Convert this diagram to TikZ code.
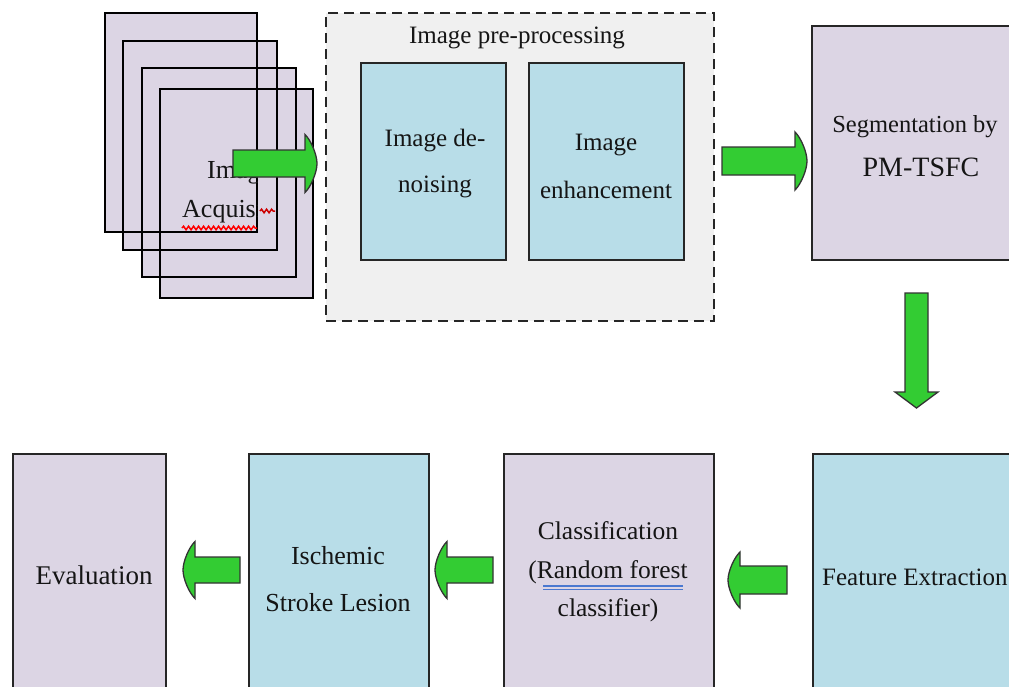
\documentclass[tikz,border=0pt]{standalone}
\usepackage{fontspec}
\setmainfont{Liberation Serif}
\usetikzlibrary{decorations.pathmorphing}
\definecolor{lav}{HTML}{DCD5E4}
\definecolor{lblue}{HTML}{B8DDE8}
\definecolor{pregray}{HTML}{F0F0F0}
\definecolor{agreen}{HTML}{33CC33}
\definecolor{txt}{HTML}{151515}
\definecolor{ulblue}{HTML}{4A78D0}
\newcommand\blkH[6]{% tail x, head base x, tip x, y centre, body half, head half
 \draw[garrow] (#1,{#4-#5}) -- (#2,{#4-#5}) -- (#2,{#4-#6})
   .. controls ({#2+0.5*(#3-#2)},{#4-0.8*#6}) and (#3,{#4-0.3*#6}) .. (#3,#4)
   .. controls (#3,{#4+0.3*#6}) and ({#2+0.5*(#3-#2)},{#4+0.8*#6}) .. (#2,{#4+#6})
   -- (#2,{#4+#5}) -- (#1,{#4+#5}) -- cycle;}
\newcommand\blkV[6]{% tail y, head base y, tip y, x centre, body half, head half
 \draw[garrow] ({#4-#5},#1) -- ({#4-#5},#2) -- ({#4-#6},#2)
   -- (#4,#3) -- ({#4+#6},#2) -- ({#4+#5},#2) -- ({#4+#5},#1) -- cycle;}
\begin{document}
\begin{tikzpicture}[x=1pt,y=-1pt,
 box/.style={draw=black!85, line width=1.6pt, inner sep=0pt, anchor=north west},
 lavbox/.style={box, fill=lav},
 bluebox/.style={box, fill=lblue},
 framefill/.style={fill=lav, inner sep=0pt, anchor=north west},
 frameline/.style={draw=black, line width=2pt},
 lbl/.style={text=txt, align=center, inner sep=0pt},
 garrow/.style={fill=agreen, draw=black!80, line width=1.3pt, line join=miter},
 squiggle/.style={line width=1.5pt, decorate, decoration={snake, amplitude=1.8pt, segment length=5pt}}
]
\useasboundingbox (0,0) rectangle (1009,686);
\fill[white] (0,0) rectangle (1009,686);
\clip (0,0) rectangle (1009,686);

% stacked acquisition frames
\node[framefill, minimum width=152pt, minimum height=219pt] (f1) at (105,13) {};
\node[framefill, minimum width=154pt, minimum height=209pt] (f2) at (123,41) {};
\node[framefill, minimum width=154pt, minimum height=209pt] (f3) at (142,68) {};
\node[framefill, minimum width=153pt, minimum height=209pt] (f4) at (160,89) {};
\foreach \f in {f1,f2,f3,f4}
  \draw[frameline] (\f.north west) rectangle (\f.south east);
\begin{scope}
\clip (0,0) rectangle (257,686);
\node[lbl, anchor=west, font=\fontsize{26}{30}\selectfont] (acq1) at (207,173) {Image};
\node[lbl, anchor=west, font=\fontsize{26}{30}\selectfont] (acq2) at (182,212) {Acquisition};
\draw[red, squiggle] (182,228) -- (257,228);
\end{scope}
\draw[red!80!black, squiggle] (260,211) -- (275,211);

% pre-processing group
\node[box, draw=black!85, line width=2pt, dash pattern=on 10pt off 6pt, fill=pregray,
      minimum width=388pt, minimum height=308pt] (pre) at (325,12) {};
\node[lbl, font=\fontsize{25}{30}\selectfont] (pretitle) at (517,38) {Image pre-processing};
\node[bluebox, minimum width=145pt, minimum height=197pt] (den) at (360,62) {};
\node[bluebox, minimum width=155pt, minimum height=197pt] (enh) at (528,62) {};
\node[lbl, font=\fontsize{25}{46}\selectfont] (dentxt) at (435,164) {Image de-\\noising};
\node[lbl, font=\fontsize{25}{48}\selectfont] (enhtxt) at (606,166) {Image\\enhancement};

% segmentation
\node[lavbox, minimum width=230pt, minimum height=234pt] (seg) at (811,25) {};
\node[lbl, font=\fontsize{24.5}{30}\selectfont] (segtxt1) at (915,127) {Segmentation by};
\node[lbl, font=\fontsize{28}{32}\selectfont] (segtxt2) at (921,167) {PM-TSFC};

% bottom row
\node[lavbox, minimum width=153pt, minimum height=260pt] (eval) at (12,453) {};
\node[bluebox, minimum width=180pt, minimum height=260pt] (isch) at (248,453) {};
\node[lavbox, minimum width=210pt, minimum height=260pt] (cls) at (503,453) {};
\node[bluebox, minimum width=230pt, minimum height=260pt] (feat) at (812,453) {};

\node[lbl, font=\fontsize{27}{32}\selectfont] (evaltxt) at (94,575) {Evaluation};
\node[lbl, font=\fontsize{26}{47}\selectfont] (ischtxt) at (338,579) {Ischemic\\Stroke Lesion};
\node[lbl, font=\fontsize{25.5}{38.5}\selectfont] (clstxt) at (608,572) {Classification\\(Random forest\\classifier)};
\draw[ulblue, line width=1.3pt] (543,586) -- (683,586);
\draw[ulblue, line width=1.3pt] (543,589.5) -- (683,589.5);
\node[lbl, anchor=west, font=\fontsize{25}{30}\selectfont] (feattxt) at (822,577) {Feature Extraction};

% block arrows
\blkH{233}{305}{317}{163.5}{13.5}{29}
\blkH{722}{795}{807}{161}{14}{29}
\blkV{293}{392}{408}{916.5}{11.5}{21.5}
\blkH{787}{740}{728}{580}{14}{28}
\blkH{493}{447}{435}{570}{13}{28.5}
\blkH{240}{195}{183}{570}{13}{28.5}
\end{tikzpicture}
\end{document}
